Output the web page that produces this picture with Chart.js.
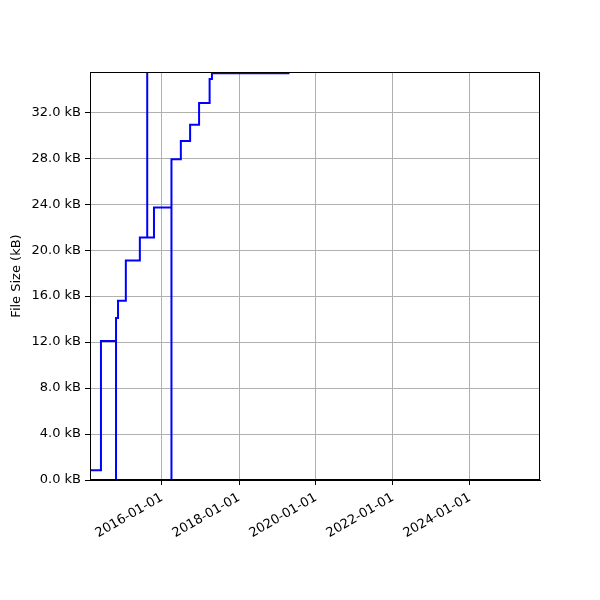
<!DOCTYPE html>
<html>
<head>
<meta charset="utf-8">
<script src="https://cdn.jsdelivr.net/npm/chart.js@4"></script>
<style>
  html, body { margin: 0; padding: 0; background: #fff; }
  #wrap { width: 600px; height: 600px; }
</style>
</head>
<body>
<div id="wrap"><canvas id="sizeChart" width="600" height="600"></canvas></div>
<script>
// История размера файла (шаги)
const dates = [
    '2014-02-17', '2014-06-01', '2014-10-22', '2014-10-22', '2014-11-10',
    '2015-01-23', '2015-06-05', '2015-08-14', '2015-08-14', '2015-10-17',
    '2016-03-31', '2016-03-31', '2016-06-28', '2016-09-24', '2016-12-18',
    '2017-03-28', '2017-04-19', '2019-04-25'
];
const sizesKB = [
    0.85, 12.1, 0, 14.1, 15.6,
    19.1, 21.1, 60, 21.1, 23.7,
    0, 27.9, 29.5, 30.9, 32.8,
    34.9, 35.4, 35.4
];
const tickDates = ['2016-01-01', '2018-01-01', '2020-01-01', '2022-01-01', '2024-01-01'];
const xMinDate = '2014-02-17';
const xMaxDate = '2025-10-27';

const points = dates.map((d, i) => ({ x: Date.parse(d), y: sizesKB[i] }));
const tickValues = tickDates.map(d => Date.parse(d));

function fmtDate(ms) {
    const d = new Date(ms);
    const mm = String(d.getUTCMonth() + 1).padStart(2, '0');
    const dd = String(d.getUTCDate()).padStart(2, '0');
    return d.getUTCFullYear() + '-' + mm + '-' + dd;
}

Chart.defaults.font.family = 'DejaVu Sans';
Chart.defaults.font.size = 13;
Chart.defaults.color = '#000';

const ctx = document.getElementById('sizeChart').getContext('2d');
new Chart(ctx, {
    type: 'line',
    data: {
        datasets: [{
            data: points,
            stepped: true,
            borderColor: '#0000ff',
            borderWidth: 2,
            pointRadius: 0,
            fill: false
        }]
    },
    options: {
        responsive: false,
        animation: false,
        layout: { padding: { top: 72, right: 60, left: 9, bottom: 0 } },
        plugins: {
            legend: { display: false },
            tooltip: { enabled: false }
        },
        scales: {
            x: {
                type: 'linear',
                min: Date.parse(xMinDate),
                max: Date.parse(xMaxDate),
                afterBuildTicks: scale => {
                    scale.ticks = tickValues.map(v => ({ value: v }));
                },
                afterFit: scale => { scale.height = 120; },
                ticks: {
                    callback: v => fmtDate(v),
                    minRotation: 30,
                    maxRotation: 30,
                    padding: 5
                },
                grid: {
                    color: '#b0b0b0',
                    tickColor: '#000',
                    tickLength: 5
                },
                border: { color: '#000', width: 1 }
            },
            y: {
                min: 0,
                max: 35.5,
                afterBuildTicks: scale => {
                    const t = [];
                    for (let v = 0; v <= 32; v += 4) t.push({ value: v });
                    scale.ticks = t;
                },
                afterFit: scale => { scale.width = 81; },
                ticks: {
                    callback: v => v.toFixed(1) + ' kB',
                    padding: 4
                },
                title: {
                    display: true,
                    text: 'File Size (kB)',
                    padding: { top: 0, bottom: 0 }
                },
                grid: {
                    color: '#b0b0b0',
                    tickColor: '#000',
                    tickLength: 5
                },
                border: { color: '#000', width: 1 }
            }
        }
    },
    plugins: [{
        // рамка вокруг области графика
        id: 'frame',
        afterDraw(chart) {
            const a = chart.chartArea;
            const c = chart.ctx;
            c.save();
            c.strokeStyle = '#000';
            c.lineWidth = 1;
            c.strokeRect(a.left + 0.5, a.top + 0.5, a.right - a.left - 1, a.bottom - a.top - 1);
            c.restore();
        }
    }]
});
</script>
</body>
</html>
